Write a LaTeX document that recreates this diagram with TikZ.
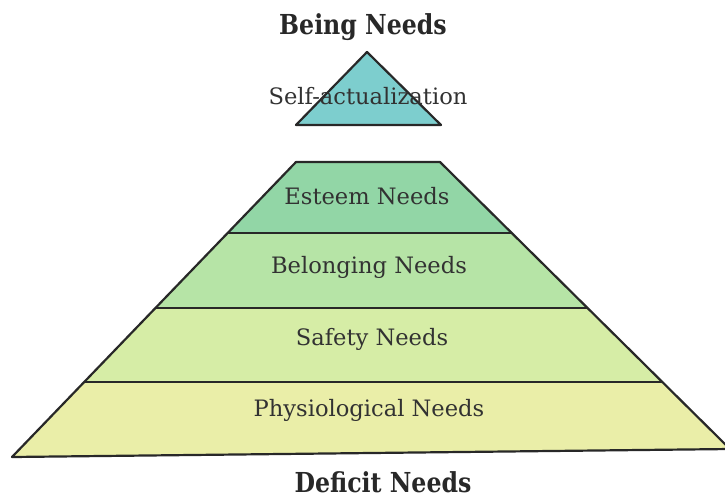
\documentclass[tikz,border=0pt]{standalone}
\usepackage{fontspec}
\usepackage{graphicx}
\setmainfont{DejaVu Serif}
\definecolor{topc}{RGB}{125,206,206}
\definecolor{estc}{RGB}{146,214,166}
\definecolor{belc}{RGB}{182,228,166}
\definecolor{safc}{RGB}{214,237,166}
\definecolor{phyc}{RGB}{234,238,168}
\definecolor{ink}{RGB}{40,40,40}
\definecolor{txt}{RGB}{50,50,50}
\tikzset{
  band/.style={draw=ink, line width=2.2pt, line join=round},
  lbl/.style={text=txt, font=\fontsize{22.6}{26}\selectfont, inner sep=0pt},
  ttl/.style={text=ink, inner sep=0pt},
}
\begin{document}
\begin{tikzpicture}[x=1pt,y=-1pt]
\clip (0,0) rectangle (725,499);
\fill[white] (0,0) rectangle (725,499);
% trapezoid corners
\coordinate (TL) at (296,162);
\coordinate (TR) at (440,162);
\coordinate (BL) at (12,457);
\coordinate (BR) at (730,449);
% divider points
\coordinate (L1) at (227.6,233);
\coordinate (R1) at (511.7,233);
\coordinate (L2) at (155.4,308);
\coordinate (R2) at (587.5,308);
\coordinate (L3) at (84.1,382);
\coordinate (R3) at (662,382);
% bands
\fill[phyc] (L3) -- (R3) -- (BR) -- (BL) -- cycle;
\fill[safc] (L2) -- (R2) -- (R3) -- (L3) -- cycle;
\fill[belc] (L1) -- (R1) -- (R2) -- (L2) -- cycle;
\fill[estc] (TL) -- (TR) -- (R1) -- (L1) -- cycle;
\draw[band] (TL) -- (TR) -- (BR) -- (BL) -- cycle;
\draw[band] (L1) -- (R1);
\draw[band] (L2) -- (R2);
\draw[band] (L3) -- (R3);
% top triangle
\coordinate (A) at (367,52);
\coordinate (AL) at (296,125);
\coordinate (AR) at (441,125);
\filldraw[band, fill=topc] (A) -- (AR) -- (AL) -- cycle;
% labels
\node[lbl] (self) at (368,96) {Self-actualization};
\node[lbl] (est) at (367,196) {Esteem Needs};
\node[lbl] (bel) at (369,267) {Belonging Needs};
\node[lbl] (saf) at (372,339) {Safety Needs};
\node[lbl] (phy) at (369,410) {Physiological Needs};
% titles
\node[ttl] (being) at (363,27) {\scalebox{0.86}[1]{\fontsize{27.5}{31}\selectfont\bfseries Being Needs}};
\node[ttl] (deficit) at (383,482) {\scalebox{0.86}[1]{\fontsize{27.5}{31}\selectfont\bfseries Deficit Needs}};
\end{tikzpicture}
\end{document}
